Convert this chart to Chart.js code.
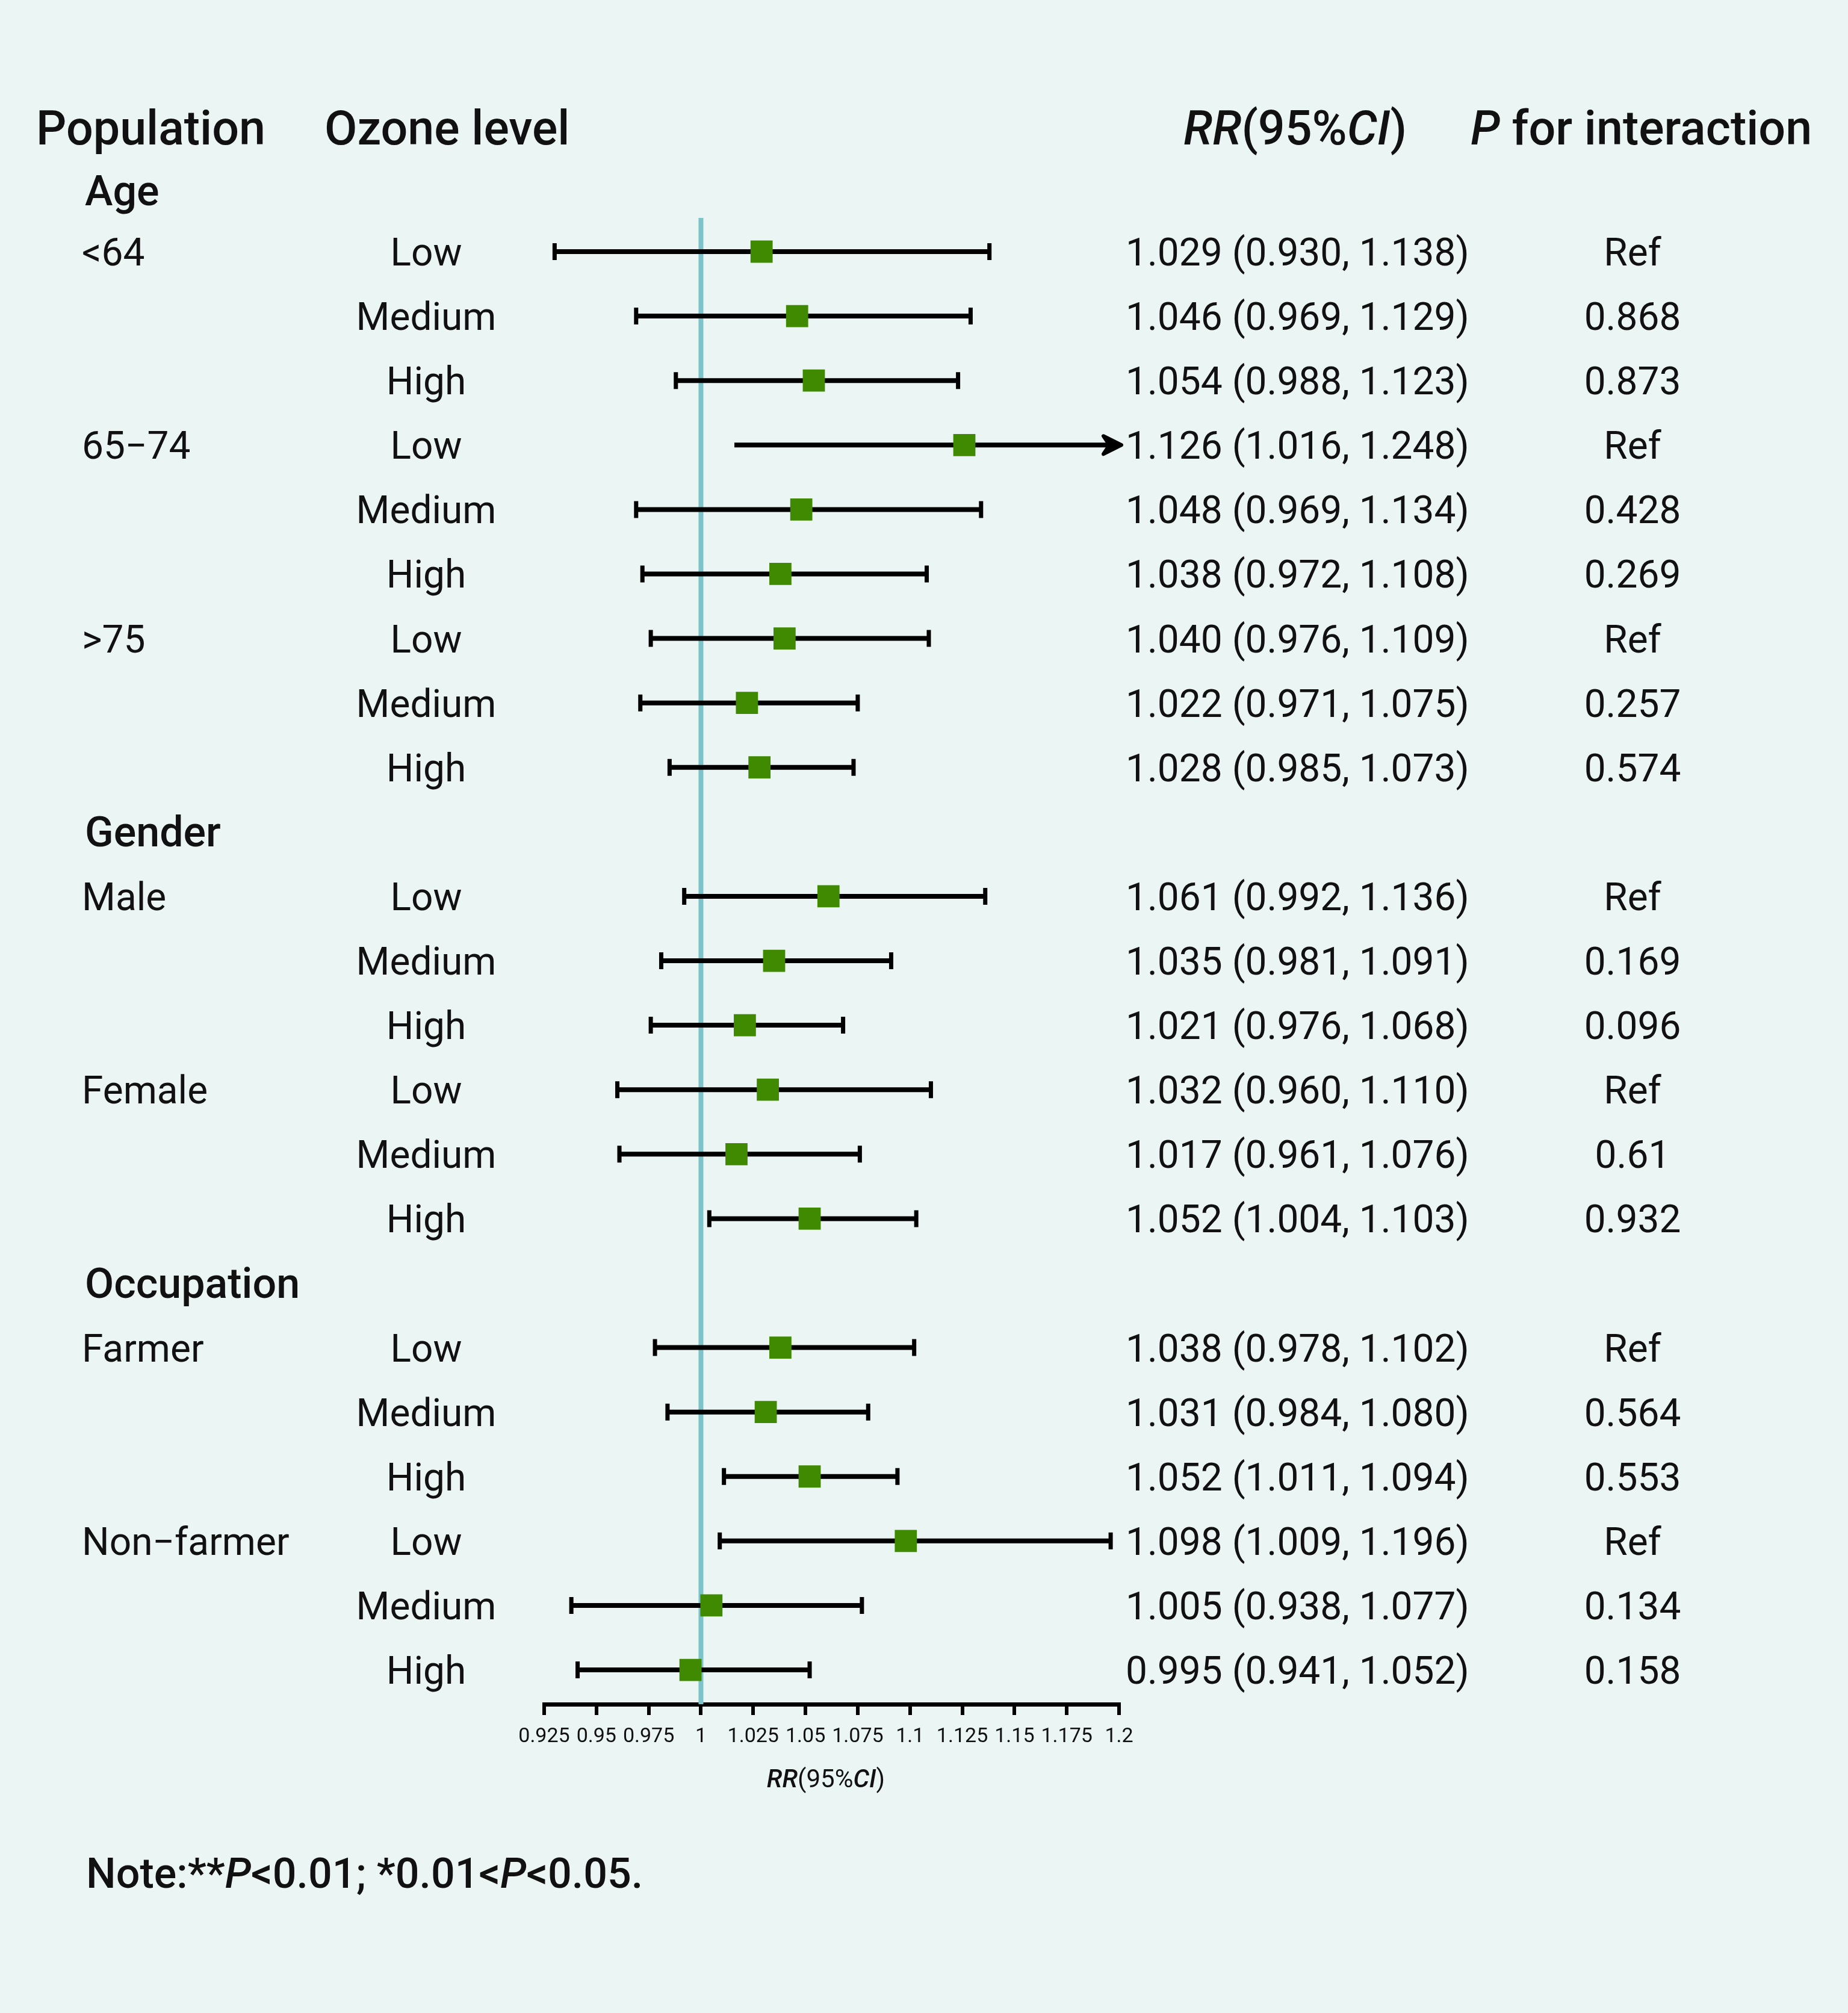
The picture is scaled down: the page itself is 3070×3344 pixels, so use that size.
<!DOCTYPE html>
<html>
<head>
<meta charset="utf-8">
<script src="https://cdn.jsdelivr.net/npm/chart.js@4"></script>
<style>
  html, body { margin: 0; padding: 0; background: #EBF5F3; }
  #wrap { width: 3070px; height: 3344px; }
</style>
</head>
<body>
<div id="wrap"><canvas id="forest" width="3070" height="3344"></canvas></div>
<script>
// --- data ---
const sections = ['Age', 'Gender', 'Occupation'];
const groupsPerSection = [3, 2, 2];
const populations = ['<64', '65−74', '>75', 'Male', 'Female', 'Farmer', 'Non−farmer'];
const levels = ['Low', 'Medium', 'High'];
const rr = [1.029, 1.046, 1.054, 1.126, 1.048, 1.038, 1.040, 1.022, 1.028,
            1.061, 1.035, 1.021, 1.032, 1.017, 1.052,
            1.038, 1.031, 1.052, 1.098, 1.005, 0.995];
const lower = [0.930, 0.969, 0.988, 1.016, 0.969, 0.972, 0.976, 0.971, 0.985,
               0.992, 0.981, 0.976, 0.960, 0.961, 1.004,
               0.978, 0.984, 1.011, 1.009, 0.938, 0.941];
const upper = [1.138, 1.129, 1.123, 1.248, 1.134, 1.108, 1.109, 1.075, 1.073,
               1.136, 1.091, 1.068, 1.110, 1.076, 1.103,
               1.102, 1.080, 1.094, 1.196, 1.077, 1.052];
const pInteraction = ['Ref', '0.868', '0.873', 'Ref', '0.428', '0.269', 'Ref', '0.257', '0.574',
                      'Ref', '0.169', '0.096', 'Ref', '0.61', '0.932',
                      'Ref', '0.564', '0.553', 'Ref', '0.134', '0.158'];
const tickValues = [0.925, 0.95, 0.975, 1, 1.025, 1.05, 1.075, 1.1, 1.125, 1.15, 1.175, 1.2];
const tickLabels = ['0.925', '0.95', '0.975', '1', '1.025', '1.05', '1.075', '1.1', '1.125', '1.15', '1.175', '1.2'];
const refValue = 1;

// row layout: section header row, then 3 level rows per population group
const sectionRow = [];
const groupRow = [];
const estimateRow = [];
let row = 0;
sections.forEach((s, si) => {
    sectionRow.push(row++);
    for (let k = 0; k < groupsPerSection[si]; k++) {
        groupRow.push(row);
        levels.forEach(() => estimateRow.push(row++));
    }
});

const INK = '#111111';
const GREEN = '#3F8A00';
const TEAL = '#7CC4C9';
const FONT = 'Roboto';
const TXT_SHIFT = 7; // 'middle' baseline sits a little high for digits/caps

function richText(ctx, parts, x, y, size, weight, align) {
    const fontOf = (it, w) => `${it ? 'italic ' : ''}${w || weight} ${size}px ${FONT}`;
    const widths = parts.map(([t, it, w]) => { ctx.font = fontOf(it, w); return ctx.measureText(t).width; });
    const total = widths.reduce((a, b) => a + b, 0);
    let cx = align === 'center' ? x - total / 2 : x;
    ctx.textAlign = 'left';
    parts.forEach(([t, it, w], k) => {
        ctx.font = fontOf(it, w);
        ctx.fillText(t, cx, y + TXT_SHIFT);
        cx += widths[k];
    });
}

const forestPlugin = {
    id: 'forest',
    beforeDraw(chart) {
        const ctx = chart.ctx;
        ctx.save();
        ctx.fillStyle = '#EBF5F3';
        ctx.fillRect(0, 0, chart.width, chart.height);
        ctx.restore();
    },
    beforeDatasetsDraw(chart) {
        const { ctx, chartArea, scales: { x, y } } = chart;
        ctx.save();
        // reference line
        ctx.strokeStyle = TEAL;
        ctx.lineWidth = 8;
        ctx.beginPath();
        ctx.moveTo(x.getPixelForValue(refValue), chartArea.top);
        ctx.lineTo(x.getPixelForValue(refValue), chartArea.bottom);
        ctx.stroke();

        // confidence intervals
        ctx.strokeStyle = '#000';
        ctx.fillStyle = '#000';
        const capH = 14;
        rr.forEach((v, i) => {
            const py = y.getPixelForValue(estimateRow[i]);
            const lo = Math.max(lower[i], x.min);
            const hi = Math.min(upper[i], x.max);
            const x0 = x.getPixelForValue(lo);
            const x1 = x.getPixelForValue(hi);
            const arrow = upper[i] > x.max;
            ctx.lineWidth = 8;
            ctx.beginPath();
            ctx.moveTo(x0, py);
            ctx.lineTo(arrow ? x1 - 6 : x1, py);
            ctx.stroke();
            ctx.lineWidth = 7;
            if (!arrow) {
                ctx.beginPath();
                ctx.moveTo(x0, py - capH); ctx.lineTo(x0, py + capH);
                ctx.moveTo(x1, py - capH); ctx.lineTo(x1, py + capH);
                ctx.stroke();
            } else {
                const tip = x1 + 4;
                ctx.beginPath();
                ctx.moveTo(tip - 30, py - 15);
                ctx.lineTo(tip, py);
                ctx.lineTo(tip - 30, py + 15);
                ctx.lineTo(tip - 20, py);
                ctx.closePath();
                ctx.fill();
                ctx.lineJoin = 'round';
                ctx.lineWidth = 6;
                ctx.stroke();
            }
        });
        ctx.restore();
    },
    afterDraw(chart) {
        const { ctx, chartArea, scales: { y } } = chart;
        ctx.save();
        ctx.fillStyle = INK;
        ctx.textBaseline = 'middle';

        // column headers
        const hy = 213;
        richText(ctx, [['Population', false]], 60, hy, 79, 500, 'left');
        richText(ctx, [['Ozone level', false]], 539, hy, 79, 500, 'left');
        richText(ctx, [['RR', true], ['(95%', false], ['CI', true], [')', false]], 1966, hy, 79, 500, 'left');
        richText(ctx, [['P', true], [' for interaction', false]], 2443, hy, 79, 500, 'left');

        // section headers
        sections.forEach((s, i) => {
            const off = i === 0 ? 6 : 0;
            richText(ctx, [[s, false]], 141, y.getPixelForValue(sectionRow[i]) + off, 70, 500, 'left');
        });
        // population groups
        populations.forEach((p, i) => {
            richText(ctx, [[p, false]], 136, y.getPixelForValue(groupRow[i]), 64, 400, 'left');
        });
        // rows
        rr.forEach((v, i) => {
            const py = y.getPixelForValue(estimateRow[i]);
            richText(ctx, [[levels[i % 3], false]], 708, py, 64, 400, 'center');
            const txt = `${v.toFixed(3)} (${lower[i].toFixed(3)}, ${upper[i].toFixed(3)})`;
            richText(ctx, [[txt, false]], 1870, py, 64, 400, 'left');
            richText(ctx, [[pInteraction[i], false]], 2712, py, 64, 400, 'center');
        });

        // axis title
        richText(ctx, [['RR', true, 500], ['(95%', false], ['CI', true, 500], [')', false]],
                 1372, chartArea.bottom + 120, 42, 400, 'center');
        // note
        richText(ctx, [['Note:**', false], ['P', true], ['<0.01; *0.01<', false], ['P', true], ['<0.05.', false]],
                 143, 3111, 70, 500, 'left');
        ctx.restore();
    }
};

const ctx = document.getElementById('forest').getContext('2d');
new Chart(ctx, {
    type: 'scatter',
    data: {
        datasets: [{
            data: rr.map((v, i) => ({ x: v, y: estimateRow[i] })),
            pointStyle: 'rect',
            pointRadius: 26,
            pointHoverRadius: 26,
            backgroundColor: GREEN,
            borderColor: GREEN,
            borderWidth: 0,
            clip: false
        }]
    },
    options: {
        responsive: false,
        devicePixelRatio: 1,
        animation: false,
        events: [],
        layout: { padding: { left: 904, right: 1211, top: 362, bottom: 433 } },
        plugins: { legend: { display: false }, tooltip: { enabled: false } },
        scales: {
            x: {
                type: 'linear',
                min: 0.925,
                max: 1.2,
                afterBuildTicks: s => { s.ticks = tickValues.map(v => ({ value: v })); },
                afterFit: s => { s.height = 80; },
                ticks: {
                    callback: (v, i) => tickLabels[i],
                    color: INK,
                    font: { family: FONT, size: 34 },
                    padding: 16,
                    maxRotation: 0,
                    autoSkip: false
                },
                grid: { display: true, drawOnChartArea: false, drawTicks: true, tickLength: 18, color: '#000', lineWidth: 6 },
                border: { display: true, color: '#000', width: 7 }
            },
            y: { type: 'linear', display: false, reverse: true, min: 0.477, max: 23.532 }
        }
    },
    plugins: [forestPlugin]
});
</script>
</body>
</html>
